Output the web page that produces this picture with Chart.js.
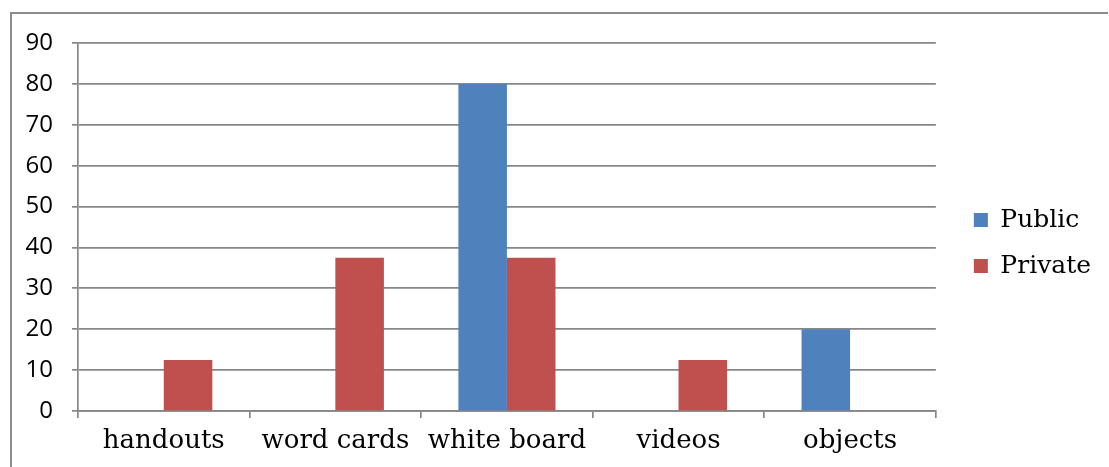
<!DOCTYPE html>
<html>
<head>
<meta charset="utf-8">
<script src="https://cdn.jsdelivr.net/npm/chart.js@4.4.0/dist/chart.umd.min.js"></script>
<style>
  html, body { margin: 0; padding: 0; background: #fff; }
  #wrap { position: relative; width: 1109px; height: 467px; }
</style>
</head>
<body>
<div id="wrap"><canvas id="chart" width="1109" height="467"></canvas></div>
<script>
const categories = ['handouts', 'word cards', 'white board', 'videos', 'objects'];
const publicValues = [0, 0, 80, 0, 20];
const privateValues = [12.5, 37.5, 37.5, 12.5, 0];
const yTicks = [0, 10, 20, 30, 40, 50, 60, 70, 80, 90];

const gridColor = '#878787';

// grey frame on the left and top edges, like the cropped Excel chart border
const framePlugin = {
  id: 'frame',
  beforeDraw(chart) {
    const ctx = chart.ctx;
    ctx.save();
    ctx.strokeStyle = '#8c8c8c';
    ctx.lineWidth = 2;
    ctx.beginPath();
    ctx.moveTo(11, 467);
    ctx.lineTo(11, 13);
    ctx.lineTo(1108, 13);
    ctx.stroke();
    ctx.restore();
  }
};

// move the legend a bit away from the plot area
const legendNudge = {
  id: 'legendNudge',
  afterLayout(chart) {
    const l = chart.legend;
    const dx = 17, dy = -12;
    l.left += dx; l.right += dx;
    l.top += dy; l.bottom += dy;
  }
};

new Chart(document.getElementById('chart'), {
  type: 'bar',
  data: {
    labels: categories,
    datasets: [
      { label: 'Public', data: publicValues, backgroundColor: '#4f81bd' },
      { label: 'Private', data: privateValues, backgroundColor: '#c0504d' }
    ]
  },
  options: {
    responsive: false,
    animation: false,
    layout: { padding: { left: 10, top: 43, right: 25, bottom: 0 } },
    datasets: {
      bar: { categoryPercentage: 0.566, barPercentage: 1.0 }
    },
    plugins: {
      tooltip: { enabled: false },
      legend: {
        position: 'right',
        labels: {
          boxWidth: 14,
          boxHeight: 14,
          padding: 21,
          color: '#000',
          font: { family: 'DejaVu Serif', size: 25 }
        }
      }
    },
    scales: {
      x: {
        grid: { drawOnChartArea: false, drawTicks: true, tickLength: 7, color: gridColor, lineWidth: 1.7, offset: true },
        border: { color: gridColor, width: 1.7 },
        ticks: { color: '#000', padding: 8, font: { family: 'DejaVu Serif', size: 26 } },
        afterFit(scale) { scale.height = 56; }
      },
      y: {
        min: 0,
        max: 90,
        afterBuildTicks(scale) { scale.ticks = yTicks.map(v => ({ value: v })); },
        grid: { color: gridColor, lineWidth: 1.7, tickLength: 6 },
        border: { color: gridColor, width: 1.7 },
        ticks: { color: '#000', padding: 19, font: { family: 'Open Sans', size: 24 } },
        afterFit(scale) { scale.width = 68; }
      }
    }
  },
  plugins: [framePlugin, legendNudge]
});
</script>
</body>
</html>
